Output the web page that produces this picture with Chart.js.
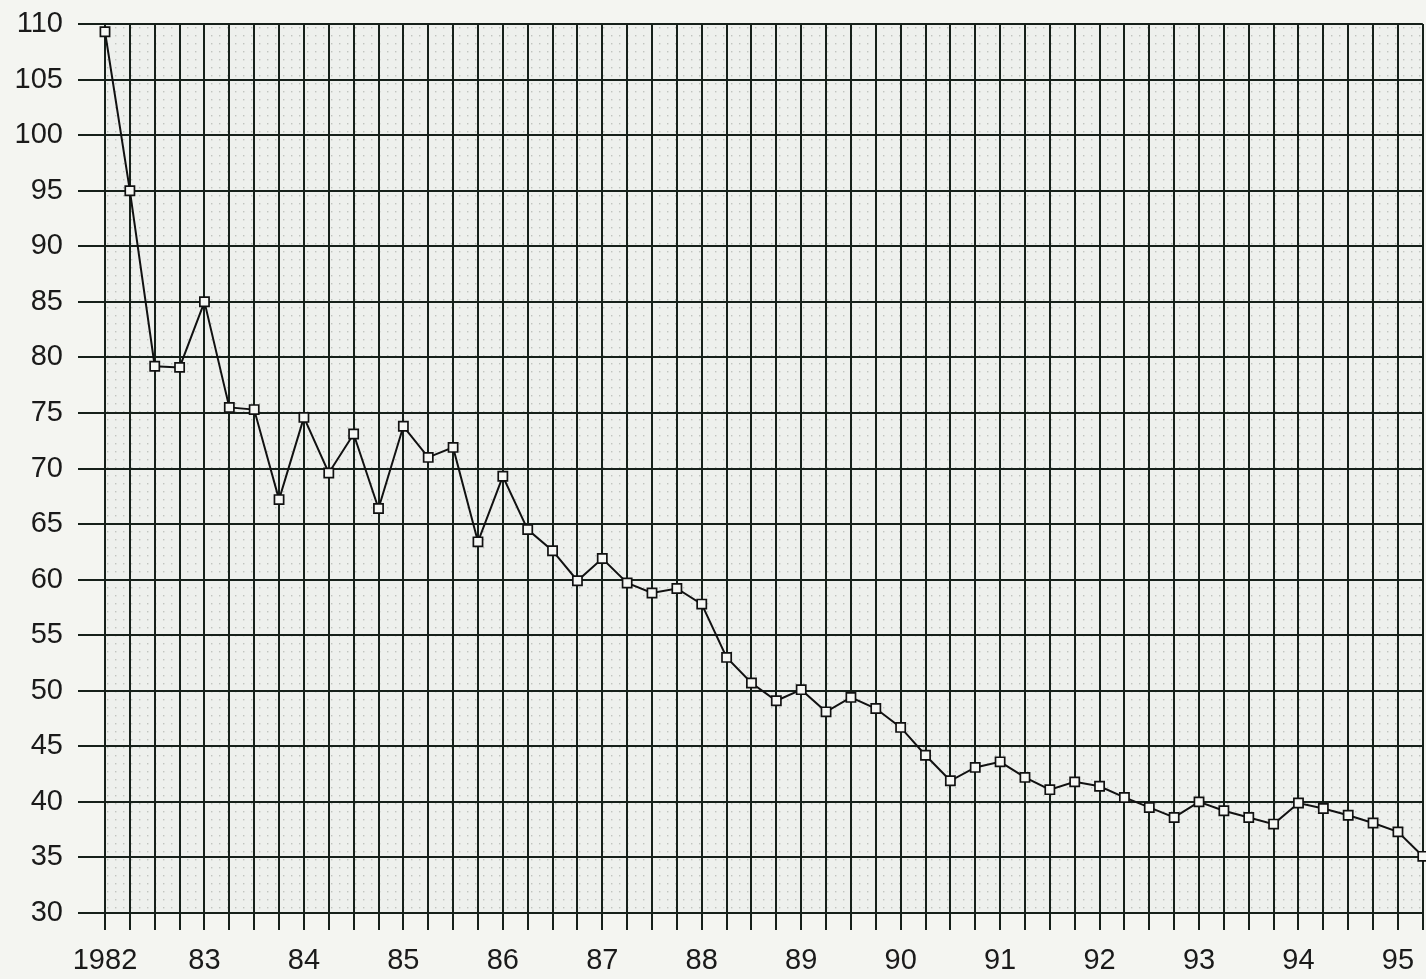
<!DOCTYPE html>
<html><head><meta charset="utf-8">
<script src="https://cdn.jsdelivr.net/npm/chart.js@4.4.0/dist/chart.umd.min.js"></script>
<style>html,body{margin:0;padding:0;background:#f4f5f1;overflow:hidden;} canvas{display:block;}</style>
</head><body>
<canvas id="c" width="1431" height="979"></canvas>
<script>
// Tick labels on the x axis (one per year, at the first quarter)
const yearLabels = ['1982','83','84','85','86','87','88','89','90','91','92','93','94','95'];
const quarterNames = ['Q1','Q2','Q3','Q4'];
// Categories: quarters from 1982 Q1 to 1995 Q2
const categories = [];
for (let y = 1982; y <= 1995; y++) {
  for (const q of quarterNames) categories.push(y + ' ' + q);
}
categories.length = 54;
// Index values
const indexValues = [
  109.3, 95.0, 79.2, 79.1, 85.0, 75.5, 75.3, 67.2,
  74.6, 69.6, 73.1, 66.4, 73.8, 71.0, 71.9, 63.4,
  69.3, 64.5, 62.6, 59.9, 61.9, 59.7, 58.8, 59.2,
  57.8, 53.0, 50.7, 49.1, 50.1, 48.1, 49.4, 48.4,
  46.7, 44.2, 41.9, 43.1, 43.6, 42.2, 41.1, 41.8,
  41.4, 40.4, 39.5, 38.6, 40.0, 39.2, 38.6, 38.0,
  39.9, 39.4, 38.8, 38.1, 37.3, 35.1
];
const yTicks = {min: 30, max: 110, step: 5};

const INK = '#16201a';

function makePattern(ctx) {
  const p = document.createElement('canvas');
  p.width = 8; p.height = 8;
  const g = p.getContext('2d');
  g.fillStyle = '#eef0ed';
  g.fillRect(0, 0, 8, 8);
  g.fillStyle = '#c0c4bf';
  g.fillRect(3, 3, 1.4, 1.4);
  return ctx.createPattern(p, 'repeat');
}

const bgPlugin = {
  id: 'bg',
  beforeDraw(chart) {
    const {ctx, chartArea: a} = chart;
    ctx.save();
    ctx.fillStyle = '#f4f5f1';
    ctx.fillRect(0, 0, chart.width, chart.height);
    ctx.fillStyle = makePattern(ctx);
    ctx.fillRect(a.left, a.top, a.right - a.left, a.bottom - a.top);
    ctx.restore();
  }
};

function zeroPad(s) {
  s.paddingTop = 0; s.paddingBottom = 0; s.paddingLeft = 0; s.paddingRight = 0;
}

new Chart(document.getElementById('c'), {
  type: 'line',
  data: {
    labels: categories,
    datasets: [{
      data: indexValues,
      borderColor: '#111',
      borderWidth: 2,
      tension: 0,
      pointStyle: 'rect',
      pointRadius: 6.5,
      pointBorderWidth: 1.7,
      pointBackgroundColor: '#f6f7f4',
      pointBorderColor: '#111',
      clip: false
    }]
  },
  options: {
    responsive: false,
    animation: false,
    layout: {padding: {top: 24, right: 0, left: 0, bottom: 0}},
    plugins: {legend: {display: false}, tooltip: {enabled: false}},
    scales: {
      x: {
        type: 'category',
        offset: false,
        grid: {color: INK, lineWidth: 2, tickLength: 17, drawTicks: true},
        border: {color: INK, width: 2},
        ticks: {
          autoSkip: false, maxRotation: 0, minRotation: 0,
          padding: 14,
          color: '#1a1a1a',
          font: {family: '"Liberation Sans", Arial, sans-serif', size: 29},
          callback: (v, i) => (i % 4 === 0 ? yearLabels[i / 4] : '')
        },
        afterFit: s => { s.height = 66; zeroPad(s); }
      },
      y: {
        min: yTicks.min, max: yTicks.max,
        grid: {color: INK, lineWidth: 2, tickLength: 27},
        border: {color: INK, width: 2},
        ticks: {
          stepSize: yTicks.step,
          padding: 15,
          color: '#1a1a1a',
          font: {family: '"Liberation Sans", Arial, sans-serif', size: 29}
        },
        afterFit: s => { s.width = 105; zeroPad(s); }
      }
    }
  },
  plugins: [bgPlugin]
});
</script>
</body></html>
